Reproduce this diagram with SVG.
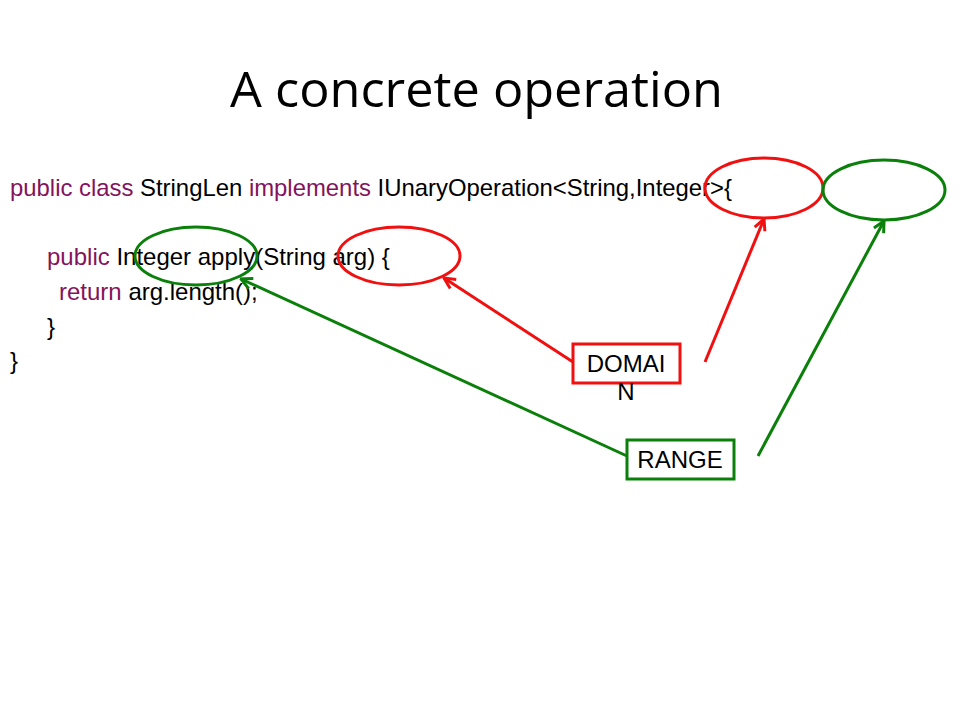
<svg xmlns="http://www.w3.org/2000/svg" width="960" height="720" viewBox="0 0 960 720">
<defs>
<style>
.title{font-family:"Open Sans","Liberation Sans",sans-serif;font-size:49px;fill:#000}
.code{font-family:"Liberation Sans",Arial,sans-serif;font-size:24px;fill:#000}
.kw{fill:#85135C}
.lbl{font-family:"Liberation Sans",Arial,sans-serif;font-size:24px;fill:#000;text-anchor:middle}
.red{stroke:#F01010;stroke-width:3;fill:none}
.green{stroke:#0A800A;stroke-width:3;fill:none}
.box-r{stroke:#F01010;stroke-width:3;fill:#fff}
.box-g{stroke:#0A800A;stroke-width:3;fill:#fff}
</style>
<marker id="ar" viewBox="0 0 14 14" refX="12.5" refY="7" markerWidth="14" markerHeight="14" markerUnits="userSpaceOnUse" orient="auto">
<path d="M1.5,1.5 L12.5,7 L1.5,12.5" fill="none" stroke="#F01010" stroke-width="3"/>
</marker>
<marker id="ag" viewBox="0 0 14 14" refX="12.5" refY="7" markerWidth="14" markerHeight="14" markerUnits="userSpaceOnUse" orient="auto">
<path d="M1.5,1.5 L12.5,7 L1.5,12.5" fill="none" stroke="#0A800A" stroke-width="3"/>
</marker>
</defs>
<rect width="960" height="720" fill="#fff"/>
<g id="title"><text class="title" x="230" y="107" textLength="493" lengthAdjust="spacingAndGlyphs">A concrete operation</text></g>
<g id="code">
<text class="code" x="10" y="196" textLength="722" lengthAdjust="spacingAndGlyphs"><tspan class="kw">public class </tspan>StringLen <tspan class="kw">implements </tspan>IUnaryOperation&lt;String,Integer&gt;{</text>
<text class="code" x="47" y="265"><tspan class="kw">public </tspan>Integer apply(String arg) {</text>
<text class="code" x="59" y="300"><tspan class="kw">return </tspan>arg.length();</text>
<text class="code" x="47" y="335">}</text>
<text class="code" x="10" y="369">}</text>
</g>
<g id="ellipses">
<ellipse id="range-apply" class="green" cx="196" cy="256" rx="61" ry="29"/>
<ellipse id="domain-arg" class="red" cx="399" cy="256" rx="61" ry="29"/>
<ellipse id="domain-string" class="red" cx="764" cy="188" rx="59" ry="30"/>
<ellipse id="range-integer" class="green" cx="884" cy="190" rx="61" ry="30"/>
</g>
<g id="connectors">
<line class="red" x1="573" y1="362" x2="444" y2="278" marker-end="url(#ar)"/>
<line class="red" x1="705" y1="362" x2="764" y2="219" marker-end="url(#ar)"/>
<line class="green" x1="627" y1="456" x2="241" y2="279" marker-end="url(#ag)"/>
<line class="green" x1="758" y1="456" x2="884" y2="221" marker-end="url(#ag)"/>
</g>
<g id="domain">
<rect class="box-r" x="573" y="344" width="107" height="39"/>
<text class="lbl" x="626" y="372">DOMAI</text>
<text class="lbl" x="626" y="400">N</text>
</g>
<g id="range">
<rect class="box-g" x="627" y="440" width="107" height="39"/>
<text class="lbl" x="680" y="468">RANGE</text>
</g>
</svg>
